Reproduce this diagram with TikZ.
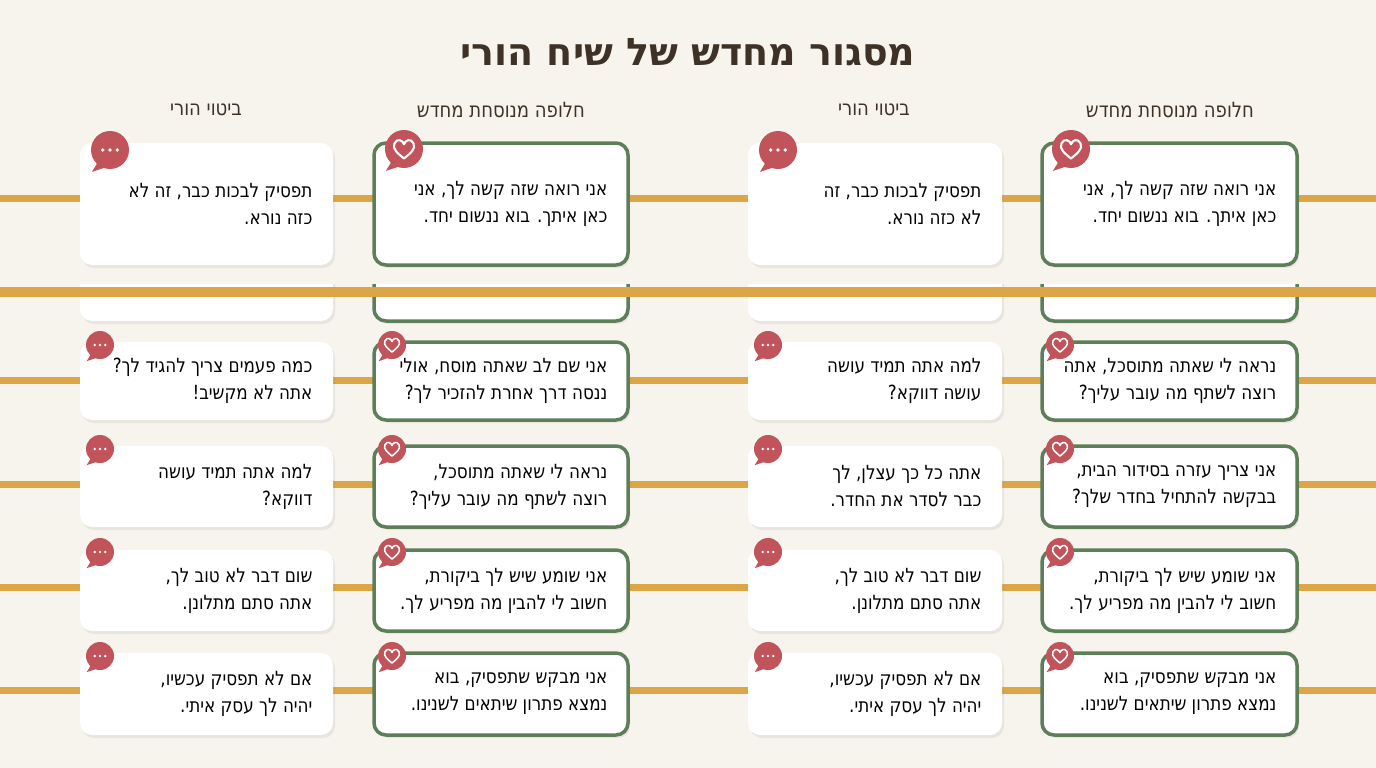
\documentclass[tikz,border=0pt]{standalone}
\usepackage{fontspec}
\setmainfont{DejaVu Sans}
\newfontfamily\boxfont[FakeStretch=0.86]{DejaVu Sans}
\usetikzlibrary{shadows,calc}
\TeXXeTstate=1
\newcommand{\heb}[1]{\beginR #1\endR}
\definecolor{bg}{HTML}{F7F4EE}
\definecolor{ttl}{HTML}{3E3226}
\definecolor{gold}{HTML}{DCA545}
\definecolor{grn}{HTML}{5E7E5A}
\definecolor{rd}{HTML}{C0545A}
\tikzset{
 box/.style={rounded corners=12pt,fill=white,drop shadow={opacity=.12,shadow xshift=2pt,shadow yshift=-3pt}},
 alt/.style={box,draw=grn,line width=3.5pt},
 txt/.style={align=right,font=\boxfont\fontsize{19.5}{27}\selectfont,text=black,anchor=east},
 hdr/.style={font=\boxfont\fontsize{21}{22}\selectfont,text=ttl},
 gl/.style={gold,line width=7pt}
}
\newcommand{\picon}[3]{%
 \fill[rd] (#1) circle (#2);
 \fill[rd] ($(#1)+(-0.55*#2,0.5*#2)$) -- ($(#1)+(-0.95*#2,1.15*#2)$) -- ($(#1)+(-0.05*#2,0.85*#2)$) -- cycle;
 \foreach \d in {-0.38,0,0.38}{\fill[white] ($(#1)+(\d*#2,0)$) circle (0.1*#2);}
 \coordinate (#3) at (#1);}
\newcommand{\aicon}[3]{%
 \fill[rd] (#1) circle (#2);
 \fill[rd] ($(#1)+(-0.55*#2,0.5*#2)$) -- ($(#1)+(-0.95*#2,1.15*#2)$) -- ($(#1)+(-0.05*#2,0.85*#2)$) -- cycle;
 \draw[white,line width=0.11*#2 pt,line join=round] ($(#1)+(0,0.5*#2)$) .. controls ($(#1)+(-0.3*#2,0.25*#2)$) and ($(#1)+(-0.65*#2,0)$) .. ($(#1)+(-0.5*#2,-0.3*#2)$) .. controls ($(#1)+(-0.35*#2,-0.6*#2)$) and ($(#1)+(-0.05*#2,-0.45*#2)$) .. ($(#1)+(0,-0.25*#2)$) .. controls ($(#1)+(0.05*#2,-0.45*#2)$) and ($(#1)+(0.35*#2,-0.6*#2)$) .. ($(#1)+(0.5*#2,-0.3*#2)$) .. controls ($(#1)+(0.65*#2,0)$) and ($(#1)+(0.3*#2,0.25*#2)$) .. cycle;
 \coordinate (#3) at (#1);}
\begin{document}
\begin{tikzpicture}[x=1pt,y=-1pt]
\fill[bg] (0,0) rectangle (1376,768);
\useasboundingbox (0,0) rectangle (1376,768);
\node[font=\bfseries\fontsize{38}{44}\selectfont,text=ttl] (title) at (688,52) {\heb{מסגור מחדש של שיח הורי}};
\node[hdr] (h1) at (206,110) {\heb{ביטוי הורי}};
\node[hdr] (h2) at (501,110) {\heb{חלופה מנוסחת מחדש}};
\node[hdr] (h3) at (874,110) {\heb{ביטוי הורי}};
\node[hdr] (h4) at (1170,110) {\heb{חלופה מנוסחת מחדש}};
\foreach \y in {198,380,484,587,690}{\draw[gl] (0,\y) -- (1376,\y);}
\def\Ca{80}\def\Cb{333}\def\Da{374}\def\Db{628}\def\Ea{748}\def\Eb{1002}\def\Fa{1042}\def\Fb{1297}
\fill[box] (\Ca,262) rectangle (\Cb,321);
\draw[alt] (\Da,262) rectangle (\Db,321);
\fill[box] (\Ea,262) rectangle (\Eb,321);
\draw[alt] (\Fa,262) rectangle (\Fb,321);
\fill[bg] (0,262) rectangle (1376,284);
\draw[gold,line width=10pt] (0,292) -- (1376,292);
\newcommand{\row}[6]{%
 \fill[box] (\Ca,#1) rectangle (\Cb,#2);
 \draw[alt] (\Da,#1) rectangle (\Db,#2);
 \fill[box] (\Ea,#1) rectangle (\Eb,#2);
 \draw[alt] (\Fa,#1) rectangle (\Fb,#2);
 \node[txt] at (\Cb-17,{(#1+#2)/2}) {#3};
 \node[txt] at (\Db-17,{(#1+#2)/2}) {#4};
 \node[txt] at (\Eb-17,{(#1+#2)/2}) {#5};
 \node[txt] at (\Fb-17,{(#1+#2)/2}) {#6};}
\row{143}{265}{\heb{תפסיק לבכות כבר, זה לא}\\\heb{כזה נורא.}}{\heb{אני רואה שזה קשה לך, אני}\\\heb{כאן איתך. בוא ננשום יחד.}}{\heb{תפסיק לבכות כבר, זה}\\\heb{לא כזה נורא.}}{\heb{אני רואה שזה קשה לך, אני}\\\heb{כאן איתך. בוא ננשום יחד.}}
\row{342}{420}{\heb{כמה פעמים צריך להגיד לך?}\\\heb{אתה לא מקשיב!}}{\heb{אני שם לב שאתה מוסח, אולי}\\\heb{ננסה דרך אחרת להזכיר לך?}}{\heb{למה אתה תמיד עושה}\\\heb{עושה דווקא?}}{\heb{נראה לי שאתה מתוסכל, אתה}\\\heb{רוצה לשתף מה עובר עליך?}}
\row{446}{527}{\heb{למה אתה תמיד עושה}\\\heb{דווקא?}}{\heb{נראה לי שאתה מתוסכל,}\\\heb{רוצה לשתף מה עובר עליך?}}{\heb{אתה כל כך עצלן, לך}\\\heb{כבר לסדר את החדר.}}{\heb{אני צריך עזרה בסידור הבית,}\\\heb{בבקשה להתחיל בחדר שלך?}}
\row{550}{631}{\heb{שום דבר לא טוב לך,}\\\heb{אתה סתם מתלונן.}}{\heb{אני שומע שיש לך ביקורת,}\\\heb{חשוב לי להבין מה מפריע לך.}}{\heb{שום דבר לא טוב לך,}\\\heb{אתה סתם מתלונן.}}{\heb{אני שומע שיש לך ביקורת,}\\\heb{חשוב לי להבין מה מפריע לך.}}
\row{653}{735}{\heb{אם לא תפסיק עכשיו,}\\\heb{יהיה לך עסק איתי.}}{\heb{אני מבקש שתפסיק, בוא}\\\heb{נמצא פתרון שיתאים לשנינו.}}{\heb{אם לא תפסיק עכשיו,}\\\heb{יהיה לך עסק איתי.}}{\heb{אני מבקש שתפסיק, בוא}\\\heb{נמצא פתרון שיתאים לשנינו.}}
\picon{110,150}{19}{i1a}\aicon{404,149}{19}{i1b}\picon{778,150}{19}{i1c}\aicon{1071,149}{19}{i1d}
\foreach \y [count=\k] in {345,449,552,656}{
 \picon{100,\y}{14}{p\k a}\aicon{392,\y}{14}{p\k b}\picon{768,\y}{14}{p\k c}\aicon{1060,\y}{14}{p\k d}}
\end{tikzpicture}
\end{document}
